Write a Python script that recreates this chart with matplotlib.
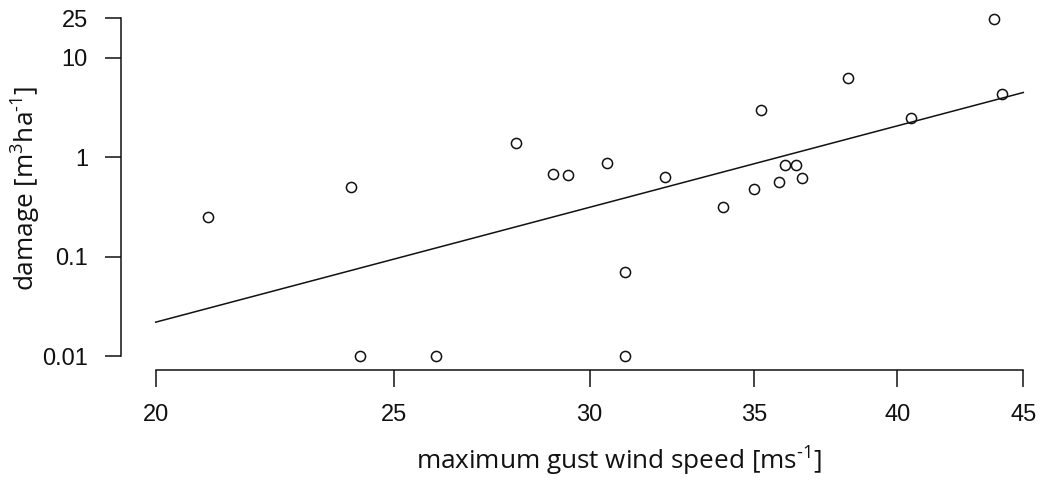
import numpy as np
import matplotlib
matplotlib.use('Agg')
import matplotlib.pyplot as plt

plt.rcParams['font.family'] = ['Liberation Sans', 'DejaVu Sans']
plt.rcParams['mathtext.fontset'] = 'custom'
plt.rcParams['mathtext.rm'] = 'Open Sans'
plt.rcParams['mathtext.it'] = 'Open Sans:italic'
plt.rcParams['mathtext.bf'] = 'Open Sans:bold'

# gust speed [m/s] and damage [m3/ha] (zeros shown at 0.01)
wind = [21.0, 24.0, 24.2, 26.0, 28.0, 29.0, 29.4, 30.5, 31.0, 31.0, 32.2,
        34.0, 35.0, 35.2, 35.8, 36.0, 36.4, 36.6, 38.2, 40.5, 43.8, 44.1]
damage = [0.25, 0.5, 0.01, 0.01, 1.4, 0.68, 0.66, 0.88, 0.071, 0.01, 0.64,
          0.32, 0.48, 3.0, 0.56, 0.84, 0.84, 0.62, 6.3, 2.5, 24.4, 4.3]

# fitted line end points
fit_x = [20, 45]
fit_y = [0.0221, 4.47]

xticks = [20, 25, 30, 35, 40, 45]
yticks = [0.01, 0.1, 1, 10, 25]
ylabels = ['0.01', '0.1', '1', '10', '25']

fig = plt.figure(figsize=(10.41, 4.8), dpi=100)
W, H = 1041, 480
ax = fig.add_axes([121 / W, 1 - 370 / H, 937 / W, 365.5 / H])

ax.plot(fit_x, fit_y, color='#111111', lw=1.1, zorder=2)
ax.plot(wind, damage, 'o', ms=7.3, mfc='none', mec='#111111', mew=1.1, zorder=3)

ax.set_xscale('log')
ax.set_yscale('log')

# R style 4% padding of the ranges
lx0, lx1 = np.log(20), np.log(45)
dx = 0.04 * (lx1 - lx0)
ax.set_xlim(np.exp(lx0 - dx), np.exp(lx1 + dx))
ly0, ly1 = np.log(0.01), np.log(25)
dy = 0.04 * (ly1 - ly0)
ax.set_ylim(np.exp(ly0 - dy), np.exp(ly1 + dy))

ax.set_xticks(xticks)
ax.set_xticklabels([str(t) for t in xticks])
ax.set_yticks(yticks)
ax.set_yticklabels(ylabels)
ax.minorticks_off()

for s in ['top', 'right']:
    ax.spines[s].set_visible(False)
ax.spines['left'].set_bounds(0.01, 25)
ax.spines['bottom'].set_bounds(20, 45)
for s in ['left', 'bottom']:
    ax.spines[s].set_linewidth(1.1)
    ax.spines[s].set_color('#111111')

ax.tick_params(axis='x', direction='out', length=12.5, width=1.1, pad=12,
               labelsize=17, colors='#111111')
ax.tick_params(axis='y', direction='out', length=11.3, width=1.1, pad=12.5,
               labelsize=17, colors='#111111')
ax.patch.set_visible(False)

fig.text(619 / W, 1 - 470 / H, r'maximum gust wind speed [ms$^{\text{-}1}$]',
         ha='center', va='baseline', fontsize=18.8, family='Open Sans', color='#111111')
fig.text(26 / W, 1 - 188 / H, r'damage [m$^{3}$ha$^{\text{-}1}$]', rotation=90,
         ha='center', va='center', fontsize=18.8, family='Open Sans', color='#111111')

fig.savefig('out.png', dpi=100)
